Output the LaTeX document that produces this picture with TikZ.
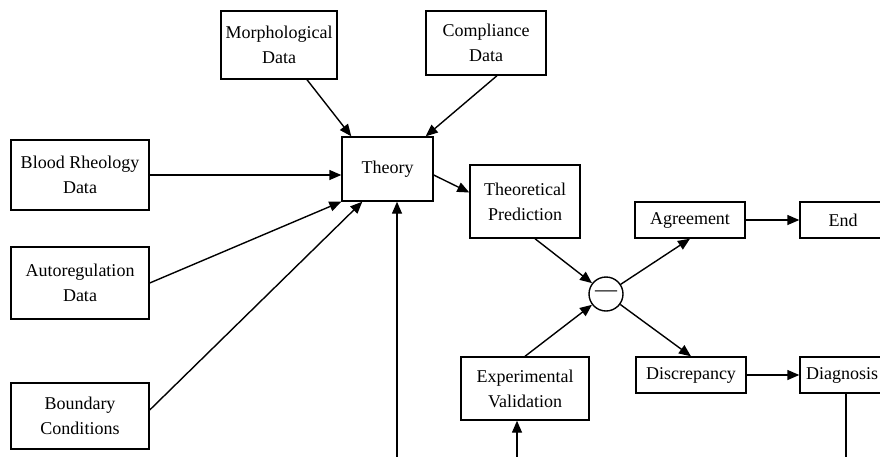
\documentclass[tikz,border=0pt]{standalone}
\usepackage{fontspec}
\setmainfont{Liberation Serif}
\usetikzlibrary{arrows.meta}
\begin{document}
\begin{tikzpicture}[x=1pt, y=-1pt,
    every node/.style={font=\fontsize{18}{25}\selectfont},
    box/.style={draw, line width=1.4pt, align=center, inner sep=0pt},
    arr/.style={-{Triangle[length=12pt,width=10pt]}, line width=1.4pt}]
    \clip (0,0) rectangle (880,456);

    \node[box, minimum width=116pt, minimum height=68pt] (morph) at (279,45) {Morphological\\Data};
    \node[box, minimum width=120pt, minimum height=64pt] (compl) at (486,43) {Compliance\\Data};
    \node[box, minimum width=138pt, minimum height=70pt] (blood) at (80,175) {Blood Rheology\\Data};
    \node[box, minimum width=138pt, minimum height=72pt] (autoreg) at (80,283) {Autoregulation\\Data};
    \node[box, minimum width=138pt, minimum height=66pt] (bound) at (80,416) {Boundary\\Conditions};

    \node[box, minimum width=91pt, minimum height=64pt] (theory) at (387.5,169) {Theory};
    \node[box, minimum width=110pt, minimum height=73pt] (theopred) at (525,201.5) {Theoretical\\Prediction};
    \node[box, minimum width=128pt, minimum height=63pt] (expval) at (525,388.5) {Experimental\\Validation};
    \node[draw, circle, line width=1.4pt, minimum size=34pt, inner sep=0pt,
          font=\fontsize{22}{22}\selectfont] (minus) at (606,294) {—};

    \node[box, minimum width=110pt, minimum height=36pt] (agree) at (690,220) {Agreement};
    \node[box, minimum width=86pt, minimum height=36pt] (end) at (843,220) {End};
    \node[box, minimum width=110pt, minimum height=36pt] (disc) at (691,375) {Discrepancy};
    \node[box, minimum width=84pt, minimum height=36pt] (diag) at (842,375) {Diagnosis};

    \coordinate (fbtheory) at (397,460);
    \coordinate (fbexp) at (517,460);
    \coordinate (fbdiag) at (846,460);

    \draw[arr] ([xshift=28pt]morph.south) -- ([xshift=10pt]theory.north west);
    \draw[arr] ([xshift=11pt]compl.south) -- ([xshift=-8pt]theory.north east);
    \draw[arr] (blood.east) -- (blood.east -| theory.west);
    \draw[arr] (autoreg.east) -- (theory.south west);
    \draw[arr] ([yshift=6pt]bound.east) -- ([xshift=21pt]theory.south west);
    \draw[arr] (fbtheory) -- (fbtheory |- theory.south);

    \draw[arr] ([yshift=-6pt]theory.east) -- ([yshift=9pt]theopred.west);
    \draw[arr] ([xshift=10pt]theopred.south) -- (minus);
    \draw[arr] (expval.north) -- (minus);
    \draw[arr] (fbexp) -- (fbexp |- expval.south);

    \draw[arr] (minus) -- (agree.south);
    \draw[arr] (minus) -- (disc.north);
    \draw[arr] (agree.east) -- (end.west);
    \draw[arr] (disc.east) -- (diag.west);
    \draw[line width=1.4pt] (fbdiag |- diag.south) -- (fbdiag);
\end{tikzpicture}
\end{document}
